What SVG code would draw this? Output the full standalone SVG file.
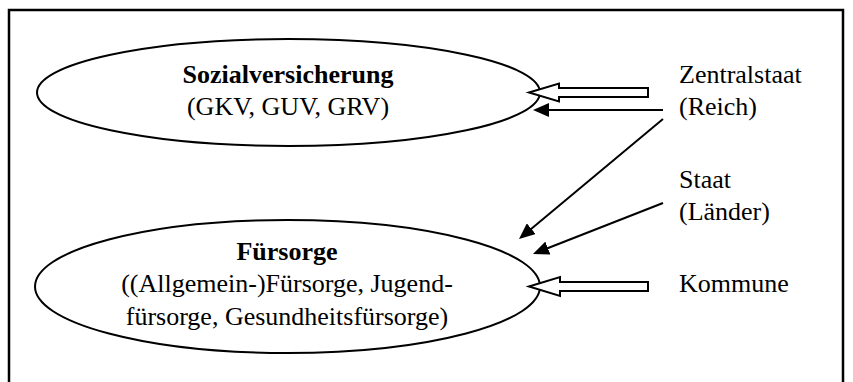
<svg xmlns="http://www.w3.org/2000/svg" width="853" height="382" viewBox="0 0 853 382">
  <defs>
    <style>
      .frame { fill: none; stroke: #000; stroke-width: 2.5; }
      .node { fill: #fff; stroke: #000; stroke-width: 2; }
      .t { font-family: "Liberation Serif", "Times New Roman", serif; font-size: 26px; fill: #000; }
      .b { font-weight: bold; }
      .hollow { fill: #fff; stroke: #000; stroke-width: 2; stroke-linejoin: miter; }
      .line { stroke: #000; stroke-width: 2; fill: none; marker-end: url(#head); }
    </style>
    <marker id="head" markerUnits="userSpaceOnUse" markerWidth="16" markerHeight="14" refX="12" refY="7" orient="auto">
      <path d="M0,0 L16,7 L0,14 z" fill="#000"/>
    </marker>
  </defs>
  <rect width="853" height="382" fill="#fff"/>
  <rect class="frame" x="9" y="10" width="834" height="400"/>

  <g id="sozialversicherung">
    <ellipse class="node" cx="288.5" cy="92.5" rx="251.5" ry="53.5"/>
    <text class="t b" x="288" y="83" text-anchor="middle">Sozialversicherung</text>
    <text class="t" x="288" y="115" text-anchor="middle">(GKV, GUV, GRV)</text>
  </g>

  <g id="fuersorge">
    <ellipse class="node" cx="287.5" cy="286.5" rx="252.5" ry="66.5"/>
    <text class="t b" x="287" y="260" text-anchor="middle">Fürsorge</text>
    <text class="t" x="287" y="292" text-anchor="middle">((Allgemein-)Fürsorge, Jugend-</text>
    <text class="t" x="287" y="325" text-anchor="middle">fürsorge, Gesundheitsfürsorge)</text>
  </g>

  <g id="zentralstaat">
    <text class="t" x="679" y="83">Zentralstaat</text>
    <text class="t" x="679" y="115">(Reich)</text>
  </g>

  <g id="staat">
    <text class="t" x="679" y="188">Staat</text>
    <text class="t" x="679" y="220">(Länder)</text>
  </g>

  <g id="kommune">
    <text class="t" x="679" y="292">Kommune</text>
  </g>

  <g id="connectors">
    <polygon class="hollow" points="529,92.5 559,83.5 559,88 648,88 648,97 559,97 559,101.5"/>
    <line class="line" x1="663" y1="110" x2="537" y2="110"/>
    <line class="line" x1="663" y1="119" x2="522.1" y2="236.4"/>
    <line class="line" x1="663" y1="203" x2="536.7" y2="252.5"/>
    <polygon class="hollow" points="529,286.5 560,277 560,282 648,282 648,291 560,291 560,296"/>
  </g>
</svg>
